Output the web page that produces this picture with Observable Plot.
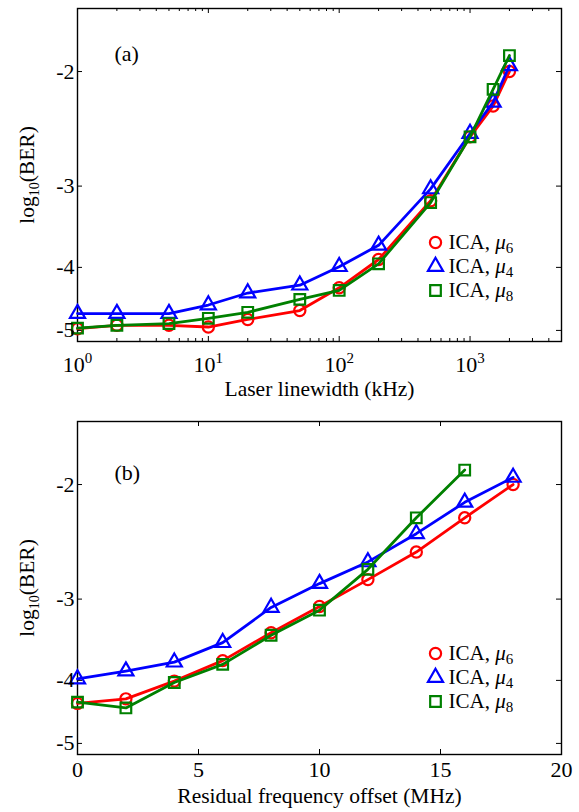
<!DOCTYPE html>
<html><head><meta charset="utf-8">
<script src="https://cdn.jsdelivr.net/npm/d3@7"></script>
<script src="https://cdn.jsdelivr.net/npm/@observablehq/plot@0.6"></script>
<style>
body{margin:0;background:#fff;}
#chart{width:579px;}
#chart svg{display:block;}
</style>
</head><body><div id="chart"></div>
<script>
// ---- series meta ----
const seriesNames = ["ICA, μ6", "ICA, μ4", "ICA, μ8"];
const seriesColors = ["#ff0000", "#0000ff", "#008000"];
const seriesSymbols = ["circle", "triangle", "square"];
const seriesR = [5.6, 5.6, 6];

// ---- panel (a): log10(BER) vs laser linewidth ----
const linewidthKHz = [1, 2, 5, 10, 20, 50, 100, 200, 500, 1000, 1500, 2000];
const berA_mu6 = [-4.97, -4.91, -4.91, -4.94, -4.81, -4.66, -4.30, -3.89, -3.16, -2.52, -2.26, -2.00];
const berA_mu4 = [-4.71, -4.71, -4.71, -4.57, -4.38, -4.26, -3.99, -3.70, -3.03, -2.49, -2.23, -1.96];
const berA_mu8 = [-4.96, -4.91, -4.88, -4.79, -4.69, -4.48, -4.34, -3.95, -3.18, -2.52, -2.13, -1.89];

// ---- panel (b): log10(BER) vs residual frequency offset ----
const offsetMHz = [0, 2, 4, 6, 8, 10, 12, 14, 16, 18];
const berB_mu6 = [-4.34, -4.27, -4.01, -3.73, -3.38, -3.08, -2.80, -2.54, -2.25, -2.00];
const berB_mu4 = [-3.98, -3.87, -3.75, -3.50, -3.09, -2.84, -2.63, -2.38, -2.13, -1.95];
const berB_mu8 = [-4.32, -4.41, -4.03, -3.78, -3.41, -3.12, -2.70, -2.25, -1.90];

// ---- ticks & labels ----
const xTicksA = [1, 10, 100, 1000];
const xTicksB = [0, 5, 10, 15, 20];
const yTicks = [-2, -3, -4, -5];
const xLabelA = "Laser linewidth (kHz)";
const xLabelB = "Residual frequency offset (MHz)";
const yLabel = "log10(BER)";

const minorA = [];
for (const dec of [1, 10, 100, 1000]) for (let k = 2; k <= 9; k++) if (dec * k <= 5000) minorA.push(dec * k);

const FONT = "Liberation Serif, Times New Roman, serif";

function makePanel(cfg) {
  const W = 579, mL = 77, mR = 18;
  const innerW = W - mL - mR;
  const innerH = cfg.height - cfg.marginTop - cfg.marginBottom;
  const marks = [];
  // inward tick marks (box style, all four sides)
  const tickSets = [[cfg.majorX, 5], [cfg.minorX, 3]];
  for (const [arr, len] of tickSets) {
    if (!arr.length) continue;
    marks.push(Plot.tickX(arr, {x: d => d, insetTop: innerH - len, stroke: "black", strokeWidth: 1}));
    marks.push(Plot.tickX(arr, {x: d => d, insetBottom: innerH - len, stroke: "black", strokeWidth: 1}));
  }
  const yT = yTicks.map(d => -d);
  marks.push(Plot.tickY(yT, {y: d => d, insetRight: innerW - 5, stroke: "black", strokeWidth: 1}));
  marks.push(Plot.tickY(yT, {y: d => d, insetLeft: innerW - 5, stroke: "black", strokeWidth: 1}));
  marks.push(Plot.frame({stroke: "black", strokeWidth: 1.4}));
  // series
  cfg.series.forEach((vals, i) => {
    const data = vals.map((v, j) => ({x: cfg.xValues[j], y: -v}));
    marks.push(Plot.line(data, {x: "x", y: "y", stroke: seriesColors[i], strokeWidth: 2.8}));
    marks.push(Plot.dot(data, {x: "x", y: "y", symbol: seriesSymbols[i], stroke: seriesColors[i],
      fill: "none", r: seriesR[i], strokeWidth: 2.2}));
  });
  // legend
  cfg.series.forEach((vals, i) => {
    marks.push(Plot.dot([0], {frameAnchor: "bottom-right", dx: -126, dy: cfg.legendDy[i],
      symbol: seriesSymbols[i], stroke: seriesColors[i], fill: "none", r: seriesR[i], strokeWidth: 2.2}));
    marks.push(Plot.text([seriesNames[i]], {frameAnchor: "bottom-right", dx: -113, dy: cfg.legendDy[i],
      textAnchor: "start", lineAnchor: "middle", fontSize: 21, fill: "black"}));
  });
  // panel label
  marks.push(Plot.text([cfg.panelLabel], {frameAnchor: "top-left", dx: 37, dy: cfg.panelDy,
    textAnchor: "start", lineAnchor: "middle", fontSize: 22, fill: "black"}));
  // axes
  marks.push(Plot.axisX({ticks: cfg.majorX, tickFormat: cfg.xFmt, tickSize: 0, tickPadding: cfg.tickPad,
    fontSize: 22, label: null}));
  marks.push(Plot.axisY({ticks: yT, tickFormat: d => String(-d), tickSize: 0, tickPadding: 3,
    fontSize: 22, label: null}));
  marks.push(Plot.text([cfg.xLabel], {frameAnchor: "bottom", dy: cfg.xLabelDy, textAnchor: "middle",
    lineAnchor: "middle", fontSize: 21.5, fill: "black"}));
  marks.push(Plot.text([yLabel], {frameAnchor: "left", rotate: -90, dx: -50, textAnchor: "middle",
    lineAnchor: "middle", fontSize: 21.5, fill: "black"}));

  const svg = Plot.plot({
    width: W, height: cfg.height,
    marginLeft: mL, marginRight: mR, marginTop: cfg.marginTop, marginBottom: cfg.marginBottom,
    style: {fontFamily: FONT, background: "white", color: "black", overflow: "visible"},
    x: {type: cfg.xType, domain: cfg.xDomain},
    y: {type: "log", domain: [5.2, 1.6]},
    marks
  });
  richText(svg);
  return svg;
}

function richText(svg) {
  d3.select(svg).selectAll("text").each(function () {
    const t = this.textContent;
    const sel = d3.select(this);
    let m;
    if ((m = /^10\^(\d)$/.exec(t))) {
      sel.text("");
      sel.append("tspan").text("10");
      sel.append("tspan").attr("dy", "-9px").attr("font-size", "15px").text(m[1]);
    } else if ((m = /^ICA, μ(\d)$/.exec(t))) {
      sel.text("");
      sel.append("tspan").text("ICA, ");
      sel.append("tspan").attr("font-style", "italic").text("μ");
      sel.append("tspan").attr("dy", "4px").attr("font-size", "15px").text(m[1]);
    } else if (t === "log10(BER)") {
      sel.text("");
      sel.append("tspan").text("log");
      sel.append("tspan").attr("dy", "5px").attr("font-size", "14px").text("10");
      sel.append("tspan").attr("dy", "-5px").text("(BER)");
    }
  });
}

const chart = document.getElementById("chart");
chart.append(makePanel({
  xType: "log", xDomain: [1, 5000], xValues: linewidthKHz,
  series: [berA_mu6, berA_mu4, berA_mu8],
  majorX: xTicksA, minorX: minorA, xFmt: d => "10^" + Math.round(Math.log10(d)), tickPad: 15,
  xLabel: xLabelA, panelLabel: "(a)", height: 400, marginTop: 8, marginBottom: 59,
  xLabelDy: 48, legendDy: [-99, -75, -51], panelDy: 45
}));
chart.append(makePanel({
  xType: "linear", xDomain: [0, 20], xValues: offsetMHz,
  series: [berB_mu6, berB_mu4, berB_mu8],
  majorX: xTicksB, minorX: [], xFmt: d => String(d), tickPad: 7,
  xLabel: xLabelB, panelLabel: "(b)", height: 412, marginTop: 21, marginBottom: 58,
  xLabelDy: 42, legendDy: [-101, -77, -53], panelDy: 51
}));
</script>
</body></html>
